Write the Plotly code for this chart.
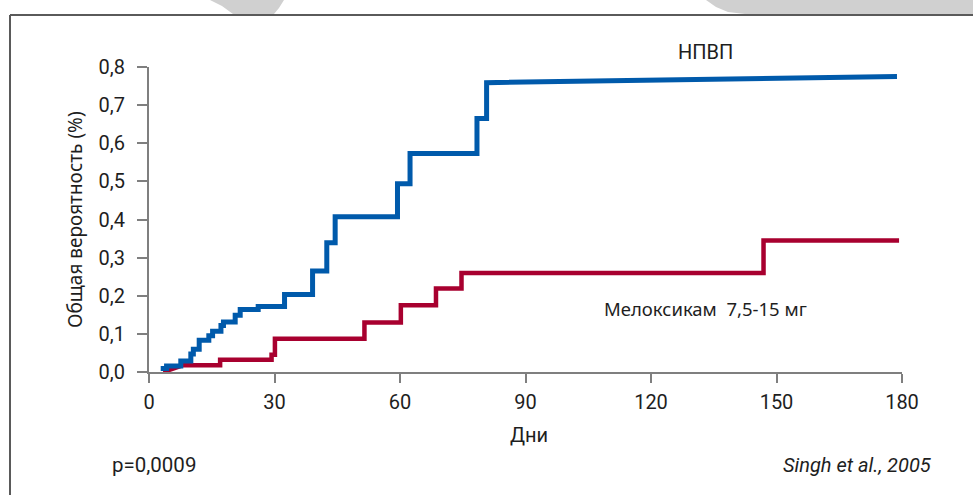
import plotly.graph_objects as go

# Cumulative probability of events (step curves), days 0-180
nsaid_days = [2.8, 4.2, 7.6, 10.0, 10.6, 12.0, 14.3, 15.2, 17.2, 17.8, 20.6,
              21.8, 26.1, 32.4, 39.1, 42.5, 44.5, 59.4, 62.4, 78.4, 80.7]
nsaid_prob = [0.009, 0.016, 0.029, 0.047, 0.060, 0.083, 0.095, 0.107, 0.122,
              0.131, 0.149, 0.164, 0.172, 0.203, 0.265, 0.339, 0.407, 0.494,
              0.573, 0.665, 0.759]
nsaid_end = (178.8, 0.775)

melox_start = (3.4, 0.0)
melox_days = [8.2, 17.0, 29.3, 30.1, 51.5, 60.2, 68.6, 74.7, 146.9]
melox_prob = [0.018, 0.032, 0.045, 0.087, 0.130, 0.175, 0.219, 0.260, 0.345]
melox_end_day = 179.3

x_ticks = [0, 30, 60, 90, 120, 150, 180]
y_ticks = [0.0, 0.1, 0.2, 0.3, 0.4, 0.5, 0.6, 0.7, 0.8]

BLUE = "#005aab"
RED = "#a8002f"
AXIS = "#7f7f7f"
NARROW = "Liberation Sans Narrow, Roboto, sans-serif"
REGULAR = "Noto Sans, Open Sans, sans-serif"

W, H = 973, 495
L, R, T, B = 149, 71, 67, 123
PW, PH = W - L - R, H - T - B


def px(x, y):
    """Pixel position -> paper coordinates."""
    return (x - L) / PW, (H - B - y) / PH


def step_xy(days, prob):
    xs, ys = [days[0]], [prob[0]]
    for i in range(1, len(days)):
        xs += [days[i], days[i]]
        ys += [prob[i - 1], prob[i]]
    return xs, ys


bx, by = step_xy(nsaid_days, nsaid_prob)
bx.append(nsaid_end[0])
by.append(nsaid_end[1])

rx, ry = step_xy(melox_days, melox_prob)
rx = [melox_start[0]] + rx + [melox_end_day]
ry = [melox_start[1]] + ry + [melox_prob[-1]]

fig = go.Figure()
fig.add_trace(go.Scatter(x=rx, y=ry, mode="lines", name="Мелоксикам",
                         line=dict(color=RED, width=4.5), hoverinfo="skip"))
fig.add_trace(go.Scatter(x=bx, y=by, mode="lines", name="НПВП",
                         line=dict(color=BLUE, width=5), hoverinfo="skip"))


def path(points):
    s = ""
    for i, (x, y) in enumerate(points):
        u, v = px(x, y)
        s += ("M" if i == 0 else "L") + f"{u:.5f},{v:.5f} "
    return s + "Z"


shapes = [
    # decorative grey shapes above the frame
    dict(type="path", xref="paper", yref="paper", layer="below",
         path=path([(210, 0), (284, 0), (279, 8), (274, 14), (233, 14), (222, 6)]),
         fillcolor="#d0d0d0", line=dict(width=0)),
    dict(type="path", xref="paper", yref="paper", layer="below",
         path=path([(706, 0), (973, 0), (973, 14), (745, 14), (728, 12), (716, 7)]),
         fillcolor="#d0d0d0", line=dict(width=0)),
]
# frame lines
x0, y0 = px(10, 15)
x1, _ = px(973, 15)
_, y1 = px(10, 495)
shapes.append(dict(type="line", xref="paper", yref="paper", x0=x0, y0=y0, x1=x1, y1=y0,
                   line=dict(color="#5a5a5a", width=2)))
shapes.append(dict(type="line", xref="paper", yref="paper", x0=x0, y0=y0, x1=x0, y1=y1,
                   line=dict(color="#5a5a5a", width=2)))


def note(text, x, y, size, font=NARROW, xanchor="center", italic=False, angle=0):
    u, v = px(x, y)
    return dict(text=f"<i>{text}</i>" if italic else text, x=u, y=v,
                xref="paper", yref="paper", showarrow=False, xanchor=xanchor,
                yanchor="middle", textangle=angle,
                font=dict(family=font, size=size, color="#1e1e1e"))


annotations = [
    note("НПВП", 705, 52, 20),
    note("Мелоксикам  7,5-15 мг", 705, 308, 18.5, font=REGULAR),
    note("Дни", 529, 435, 20),
    note("p=0,0009", 110, 465, 20.5, xanchor="left"),
    note("Singh et al., 2005", 934, 465, 20, xanchor="right", italic=True),
    note("Общая вероятность (%)", 75, 220, 19, font=REGULAR, angle=-90),
]

fig.update_layout(
    width=W, height=H,
    margin=dict(l=L, r=R, t=T, b=B),
    paper_bgcolor="white", plot_bgcolor="white",
    showlegend=False,
    separators=", ",
    shapes=shapes,
    annotations=annotations,
    xaxis=dict(range=[0, 180], tickvals=x_ticks, ticktext=[str(v) for v in x_ticks],
               showgrid=False, zeroline=False, showline=True, linecolor=AXIS,
               linewidth=2, ticks="outside", ticklen=9, tickwidth=1.5,
               tickcolor=AXIS, tickfont=dict(family=NARROW, size=20, color="#1e1e1e"),
               ticklabelstandoff=2, fixedrange=True),
    yaxis=dict(range=[0, 0.8], tickvals=y_ticks, tickformat=".1f",
               showgrid=False, zeroline=False, showline=True, linecolor=AXIS,
               linewidth=2, ticks="outside", ticklen=10, tickwidth=1.5,
               tickcolor=AXIS, tickfont=dict(family=NARROW, size=20, color="#1e1e1e"),
               ticklabelstandoff=8, fixedrange=True),
)

fig.write_html("out.html", config={"displayModeBar": False})
